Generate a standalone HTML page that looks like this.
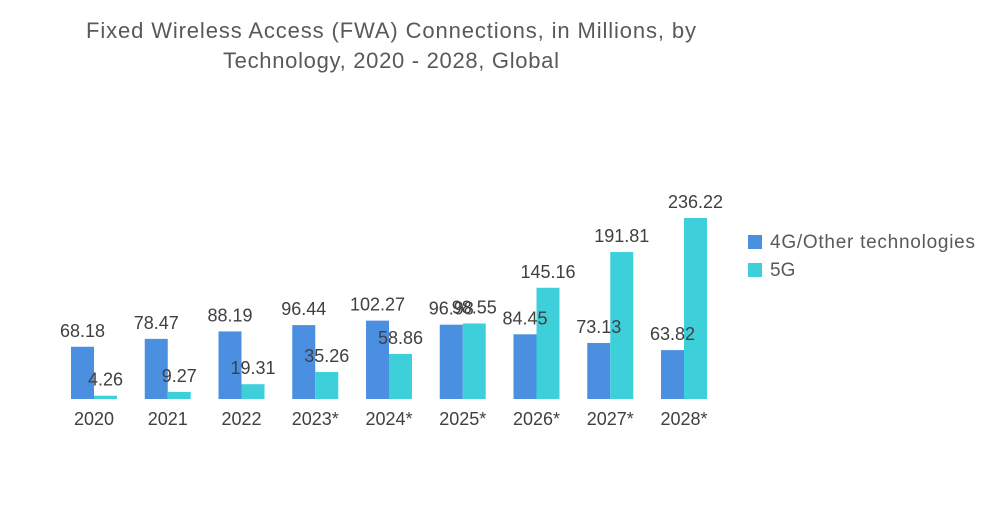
<!DOCTYPE html>
<html><head><meta charset="utf-8">
<style>
body{margin:0;background:#fff;width:1000px;height:504px;overflow:hidden;font-family:"Liberation Sans",sans-serif;}
</style></head>
<body>
<svg id="chart" width="1000" height="504" xmlns="http://www.w3.org/2000/svg">
<text x="391" y="38" text-anchor="middle" font-size="22" textLength="610" fill="#595959" font-family="Liberation Sans, sans-serif">Fixed Wireless Access (FWA) Connections, in Millions, by</text>
<text x="391" y="68" text-anchor="middle" font-size="22" textLength="336" fill="#595959" font-family="Liberation Sans, sans-serif">Technology, 2020 - 2028, Global</text>
<g id="bars"></g>
<g>
<rect x="748" y="235" width="14" height="14" fill="#4a8fe0"/>
<text x="770" y="248" font-size="19" textLength="205" fill="#595959">4G/Other technologies</text>
<rect x="748" y="263" width="14" height="14" fill="#3ed0da"/>
<text x="770" y="276" font-size="19" fill="#595959">5G</text>
</g>
</svg>
<script>
const categories=["2020","2021","2022","2023*","2024*","2025*","2026*","2027*","2028*"];
const series4g=[68.18,78.47,88.19,96.44,102.27,96.98,84.45,73.13,63.82];
const series5g=[4.26,9.27,19.31,35.26,58.86,98.55,145.16,191.81,236.22];
const labels4g=["68.18","78.47","88.19","96.44","102.27","96.98","84.45","73.13","63.82"];
const labels5g=["4.26","9.27","19.31","35.26","58.86","98.55","145.16","191.81","236.22"];
const baseY=399, scale=181/236.22, x0=94, step=73.75, bw=23;
const yS=v=>baseY-v*scale;
const xC=i=>x0+i*step;
const g=document.getElementById('bars');
const NS="http://www.w3.org/2000/svg";
function mk(tag,attrs){const e=document.createElementNS(NS,tag);for(const k in attrs)e.setAttribute(k,attrs[k]);return e;}
categories.forEach((c,i)=>{
  const cx=xC(i);
  const b1=mk('rect',{x:cx-bw,y:yS(series4g[i]),width:bw,height:series4g[i]*scale,fill:'#4a8fe0'});
  
  
  g.appendChild(b1);
  const b2=mk('rect',{x:cx,y:yS(series5g[i]),width:bw,height:series5g[i]*scale,fill:'#3ed0da'});
  
  
  g.appendChild(b2);
  const t1=mk('text',{x:cx-bw/2,y:yS(series4g[i])-10,'text-anchor':'middle','font-size':18,fill:'#404040'});
  t1.textContent=labels4g[i];
  
  
  g.appendChild(t1);
  const t2=mk('text',{x:cx+bw/2,y:yS(series5g[i])-10,'text-anchor':'middle','font-size':18,fill:'#404040'});
  t2.textContent=labels5g[i];
  
  
  g.appendChild(t2);
  const t3=mk('text',{x:cx,y:425,'text-anchor':'middle','font-size':18,fill:'#404040'});
  t3.textContent=c;
  
  
  g.appendChild(t3);
});
</script>
</body></html>
